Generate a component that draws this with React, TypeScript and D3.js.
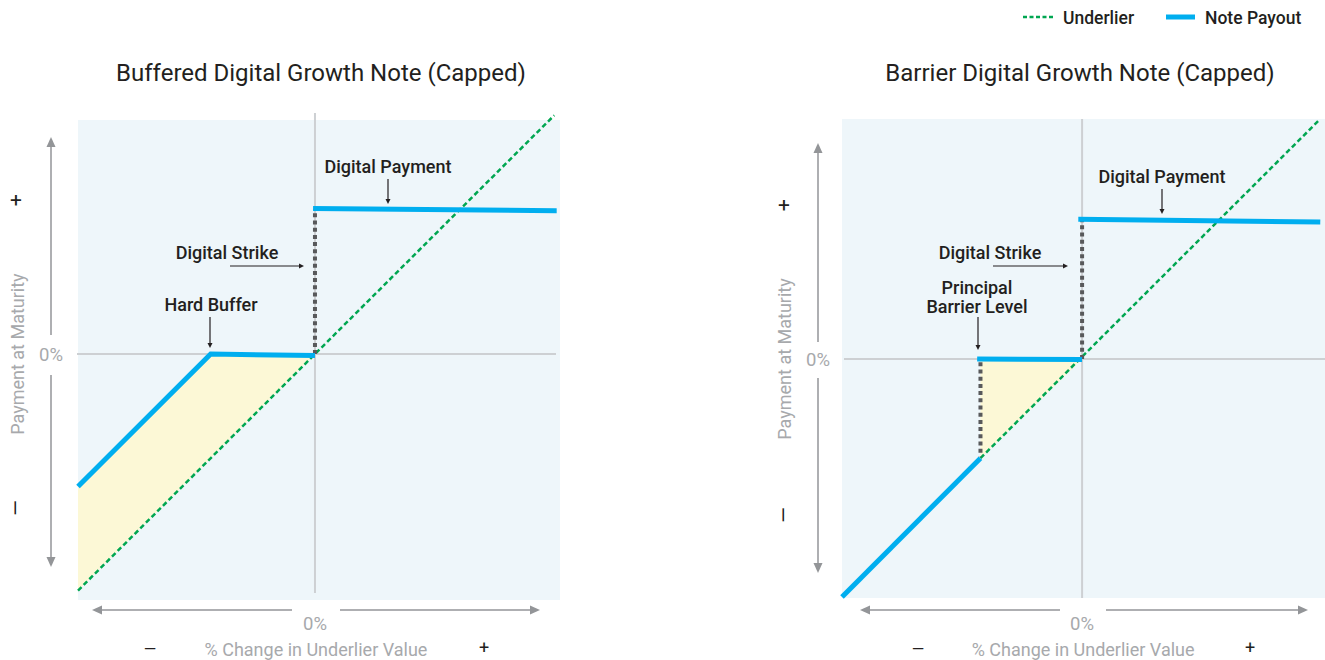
import React from "react";
import * as d3 from "d3";

// ---------- data (percent units) ----------
const leftTitle = "Buffered Digital Growth Note (Capped)";
const rightTitle = "Barrier Digital Growth Note (Capped)";
const legendItems = ["Underlier", "Note Payout"];
const yAxisLabel = "Payment at Maturity";
const xAxisLabel = "% Change in Underlier Value";
const zeroLabel = "0%";

// Left panel
const leftUnderlier: [number, number][] = [[-50, -50], [50.5, 50.5]];
const leftPayoffLow: [number, number][] = [[-50, -28], [-22, 0], [0, -0.3]];
const leftPayoffHigh: [number, number][] = [[-0.4, 30.8], [51, 30.3]];
const leftStrike: [number, number][] = [[0, 0], [0, 30.6]];
const leftFill: [number, number][] = [[-50, -28], [-22, 0], [0, -0.3], [0, 0], [-50, -50]];

// Right panel
const rightUnderlier: [number, number][] = [[-21.5, -21], [50, 50.4]];
const rightPayoffLow: [number, number][] = [[-50.8, -50.4], [-21.5, -21]];
const rightPayoffMid: [number, number][] = [[-22.2, 0], [0, -0.1]];
const rightPayoffHigh: [number, number][] = [[-0.8, 29.6], [50.4, 29]];
const rightBarrier: [number, number][] = [[-21.5, -0.7], [-21.5, -20.6]];
const rightStrike: [number, number][] = [[0, 0], [0, 29.4]];
const rightFill: [number, number][] = [[-21.5, 0], [0, 0], [-21.5, -21]];

// ---------- styles ----------
const C = {
  bg: "#eef6fa",
  fill: "#fcf8d6",
  blue: "#00aeef",
  green: "#00a651",
  dotted: "#58595b",
  zero: "#cdd0d3",
  arrow: "#939598",
  grayText: "#a7a9ac",
  text: "#231f20",
};
const FONT = "Roboto, 'Noto Sans', sans-serif";

type Ann = { lines: string[]; x: number; y: number; arrow: [number, number, number, number] };

type PanelProps = {
  title: string;
  titleX: number;
  bg: [number, number, number, number];
  xDomain: [number, number];
  yDomain: [number, number];
  vLine: [number, number];
  hLine: [number, number];
  yArrowX: number;
  yArrowTop: number;
  yArrowBottom: number;
  yGap: [number, number];
  plusY: number;
  minusY: number;
  signX: number;
  yLabelX: number;
  xArrowLeft: [number, number];
  xArrowRight: [number, number];
  xMinusX: number;
  xPlusX: number;
  underlier: [number, number][];
  payoffs: [number, number][][];
  dotted: [number, number][][];
  fill: [number, number][];
  anns: Ann[];
};

function Panel(p: PanelProps) {
  const x = d3.scaleLinear().domain(p.xDomain).range([p.bg[0], p.bg[1]]);
  const y = d3.scaleLinear().domain(p.yDomain).range([p.bg[3], p.bg[2]]);
  const line = d3.line<[number, number]>().x((d) => x(d[0])).y((d) => y(d[1]));
  const x0 = x(0);
  const y0 = y(0);
  const arrowY = 610;
  return (
    <g>
      <text x={p.titleX} y={81} textAnchor="middle" fontFamily={FONT} fontSize={24} fill={C.text}>
        {p.title}
      </text>
      <rect x={p.bg[0]} y={p.bg[2]} width={p.bg[1] - p.bg[0]} height={p.bg[3] - p.bg[2]} fill={C.bg} />
      <line x1={x0} x2={x0} y1={p.vLine[0]} y2={p.vLine[1]} stroke={C.zero} strokeWidth={2} />
      <line x1={p.hLine[0]} x2={p.hLine[1]} y1={y0} y2={y0} stroke={C.zero} strokeWidth={2} />
      <path d={line(p.fill) + "Z"} fill={C.fill} />
      <path d={line(p.underlier) || ""} fill="none" stroke={C.green} strokeWidth={2.5} strokeDasharray="5,3" />
      {p.dotted.map((d, i) => (
        <path key={i} d={line(d) || ""} fill="none" stroke={C.dotted} strokeWidth={4} strokeDasharray="4,3.2" />
      ))}
      {p.payoffs.map((d, i) => (
        <path key={i} d={line(d) || ""} fill="none" stroke={C.blue} strokeWidth={5} strokeLinejoin="miter" />
      ))}
      {/* y axis arrow */}
      <line x1={p.yArrowX} x2={p.yArrowX} y1={p.yArrowTop + 8} y2={p.yGap[0]} stroke={C.arrow} strokeWidth={1.5} />
      <line x1={p.yArrowX} x2={p.yArrowX} y1={p.yGap[1]} y2={p.yArrowBottom - 8} stroke={C.arrow} strokeWidth={1.5} />
      <path d={`M${p.yArrowX},${p.yArrowTop}l-4.5,10h9z`} fill={C.arrow} />
      <path d={`M${p.yArrowX},${p.yArrowBottom}l-4.5,-10h9z`} fill={C.arrow} />
      <text x={p.yArrowX} y={y0 + 7} textAnchor="middle" fontFamily={FONT} fontSize={18.5} fill={C.grayText}>
        {zeroLabel}
      </text>
      <text x={p.signX} y={p.plusY + 7} textAnchor="middle" fontFamily={FONT} fontSize={21} fill={C.text}>+</text>
      <text
        transform={`translate(${p.signX + 6.5},${p.minusY}) rotate(-90)`}
        textAnchor="middle"
        fontFamily={FONT}
        fontSize={20}
        fill={C.text}
      >
        —
      </text>
      <text
        transform={`translate(${p.yLabelX},${y0}) rotate(-90)`}
        textAnchor="middle"
        fontFamily={FONT}
        fontSize={18}
        fill={C.grayText}
      >
        {yAxisLabel}
      </text>
      {/* x axis arrows */}
      <line x1={p.xArrowLeft[0] + 8} x2={p.xArrowLeft[1]} y1={arrowY} y2={arrowY} stroke={C.arrow} strokeWidth={1.5} />
      <path d={`M${p.xArrowLeft[0]},${arrowY}l10,-4.5v9z`} fill={C.arrow} />
      <line x1={p.xArrowRight[0]} x2={p.xArrowRight[1] - 8} y1={arrowY} y2={arrowY} stroke={C.arrow} strokeWidth={1.5} />
      <path d={`M${p.xArrowRight[1]},${arrowY}l-10,-4.5v9z`} fill={C.arrow} />
      <text x={x0} y={630} textAnchor="middle" fontFamily={FONT} fontSize={18.5} fill={C.grayText}>
        {zeroLabel}
      </text>
      <text x={x0 + 1} y={656} textAnchor="middle" fontFamily={FONT} fontSize={18} fill={C.grayText}>
        {xAxisLabel}
      </text>
      <text x={p.xMinusX} y={655} textAnchor="middle" fontFamily={FONT} fontSize={16} fill={C.text}>—</text>
      <text x={p.xPlusX} y={654} textAnchor="middle" fontFamily={FONT} fontSize={18} fill={C.text}>+</text>
      {/* annotations */}
      {p.anns.map((a, i) => {
        const [ax1, ay1, ax2, ay2] = a.arrow;
        const horiz = ay1 === ay2;
        const head = horiz
          ? `M${ax2},${ay2}l-5,-2.5v5z`
          : `M${ax2},${ay2}l-2.5,-5h5z`;
        return (
          <g key={i}>
            {a.lines.map((t, j) => (
              <text key={j} x={a.x} y={a.y + j * 19} textAnchor="middle" fontFamily={FONT} fontSize={18} fontWeight={500} fill={C.text}>
                {t}
              </text>
            ))}
            <line x1={ax1} y1={ay1} x2={horiz ? ax2 - 3 : ax2} y2={horiz ? ay2 : ay2 - 3} stroke={C.text} strokeWidth={1.2} />
            <path d={head} fill={C.text} />
          </g>
        );
      })}
    </g>
  );
}

export default function App() {
  return (
    <svg width={1325} height={660} style={{ position: "absolute", left: 0, top: 0 }}>
      <rect width={1325} height={660} fill="#ffffff" />
      {/* legend */}
      <line x1={1023} x2={1053} y1={17} y2={17} stroke={C.green} strokeWidth={2.5} strokeDasharray="4,2.5" />
      <text x={1063} y={23.5} fontFamily={FONT} fontSize={17.5} fontWeight={500} fill={C.text}>{legendItems[0]}</text>
      <line x1={1166} x2={1195} y1={17} y2={17} stroke={C.blue} strokeWidth={5} />
      <text x={1205} y={23.5} fontFamily={FONT} fontSize={17.5} fontWeight={500} fill={C.text}>{legendItems[1]}</text>

      <Panel
        title={leftTitle}
        titleX={321}
        bg={[78, 560, 120, 600]}
        xDomain={[-50, 51.7]}
        yDomain={[-52, 49.5]}
        vLine={[113, 593]}
        hLine={[77, 556]}
        yArrowX={51}
        yArrowTop={137}
        yArrowBottom={567}
        yGap={[335, 375]}
        plusY={200}
        minusY={508}
        signX={16}
        yLabelX={24}
        xArrowLeft={[92, 292]}
        xArrowRight={[340, 540]}
        xMinusX={150}
        xPlusX={484}
        underlier={leftUnderlier}
        payoffs={[leftPayoffLow, leftPayoffHigh]}
        dotted={[leftStrike]}
        fill={leftFill}
        anns={[
          { lines: ["Digital Payment"], x: 388, y: 173, arrow: [388, 179, 388, 204] },
          { lines: ["Digital Strike"], x: 227, y: 259, arrow: [230, 266, 304, 266] },
          { lines: ["Hard Buffer"], x: 211, y: 311, arrow: [210, 317, 210, 348] },
        ]}
      />
      <Panel
        title={rightTitle}
        titleX={1080}
        bg={[842, 1325, 119, 598]}
        xDomain={[-50.8, 51.4]}
        yDomain={[-50.6, 50.8]}
        vLine={[119, 598]}
        hLine={[844, 1325]}
        yArrowX={818}
        yArrowTop={143}
        yArrowBottom={573}
        yGap={[342, 378]}
        plusY={205}
        minusY={515}
        signX={784}
        yLabelX={791}
        xArrowLeft={[860, 1060]}
        xArrowRight={[1106, 1308]}
        xMinusX={918}
        xPlusX={1250}
        underlier={rightUnderlier}
        payoffs={[rightPayoffLow, rightPayoffMid, rightPayoffHigh]}
        dotted={[rightStrike, rightBarrier]}
        fill={rightFill}
        anns={[
          { lines: ["Digital Payment"], x: 1162, y: 183, arrow: [1162, 189, 1162, 214] },
          { lines: ["Digital Strike"], x: 990, y: 259, arrow: [993, 266, 1068, 266] },
          { lines: ["Principal", "Barrier Level"], x: 977, y: 294, arrow: [978, 317, 978, 350] },
        ]}
      />
    </svg>
  );
}
